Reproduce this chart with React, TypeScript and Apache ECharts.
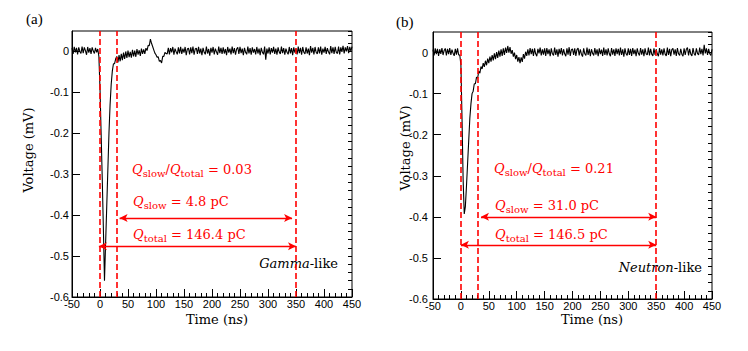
import React, { useEffect, useRef } from 'react';
import * as echarts from 'echarts';

// ---- sampling grid of the digitised waveforms (ns) ----
const T_START = -50;
const T_STEP = 2;

// ---- waveform (a): Gamma-like, voltage in mV, one value every 2 ns from -50 ns ----
const VOLT_A = [
  0.008, -0.006, 0.011, -0.002, 0.009, -0.007, 0.01, 0.000, -0.005, 0.012,
  -0.004, 0.01, 0.002, -0.008, 0.011, -0.003, 0.008, -0.006, 0.01, 0.001,
  -0.005, 0.009, -0.002, 0.006, -0.012,
  -0.09, -0.2, -0.31, -0.43, -0.56, -0.47, -0.38, -0.29, -0.2, -0.13,
  -0.08, -0.048, -0.03, -0.03, -0.018,
  -0.012, -0.027, -0.009, -0.024, -0.006,
  -0.021, -0.003, -0.018, 0.000, -0.016, 0.002, -0.014, -0.001, -0.015, 0.004,
  -0.012, 0.002, -0.013, 0.006, -0.008, 0.003, -0.011, 0.007, -0.006, 0.005,
  -0.006, 0.008, 0.002, 0.015, 0.014, 0.03, 0.02, 0.012, 0.004, -0.004,
  -0.008, -0.014, -0.013, -0.024, -0.022, -0.028, -0.012, -0.012, -0.002, -0.005,
  -0.006, 0.009, -0.007, 0.008, -0.002, 0.011, -0.008, 0.007, -0.001, -0.007,
  0.01, -0.005, 0.011, -0.006, 0.007, -0.003, 0.011, -0.009, 0.006, 0.008,
  -0.007, 0.01, -0.004, 0.012, -0.008, 0.006, 0.008, -0.006, 0.011, -0.005,
  0.007, -0.009, 0.009, -0.002, -0.007, 0.012, -0.005, 0.006, -0.01, 0.009,
  -0.003, 0.011, -0.007, 0.007, -0.001, -0.008, 0.012, -0.004, 0.009, -0.006,
  0.01, -0.005, 0.006, -0.009, 0.011, -0.003, 0.007, -0.007, 0.012, -0.004,
  0.008, -0.008, 0.006, 0.01, -0.006, 0.011, -0.004, 0.007, -0.009, 0.009,
  -0.002, -0.007, 0.012, -0.005, 0.008, -0.008, 0.01, -0.003, 0.006, -0.007,
  0.011, -0.005, 0.007, -0.009, 0.009, -0.002, -0.007, 0.012, -0.02, 0.007,
  -0.005, 0.01, -0.007, 0.008, -0.003, 0.011, -0.006, 0.007, -0.008, 0.01,
  -0.001, -0.006, 0.012, -0.004, 0.008, -0.008, 0.007, -0.002, -0.007, 0.011,
  -0.005, 0.008, -0.009, 0.01, -0.003, 0.007, -0.007, 0.012, -0.004, 0.009,
  -0.008, 0.011, -0.002, -0.006, 0.01, -0.005, 0.007, -0.009, 0.013, -0.003,
  0.009, -0.007, 0.011, -0.002, -0.006, 0.01, -0.005, 0.012, -0.008, 0.007,
  -0.003, 0.011, -0.006, 0.008, -0.001, -0.007, 0.013, -0.004, 0.01, -0.006,
  0.011, -0.002, -0.005, 0.012, -0.007, 0.01, -0.001, 0.014, -0.005, 0.01,
  0.000, 0.013, -0.004, 0.011, 0.001, 0.012,
];

// ---- waveform (b): Neutron-like ----
const VOLT_B = [
  0.007, -0.007, 0.01, -0.004, 0.009, -0.008, 0.008, -0.003, 0.011, -0.006,
  0.005, 0.01, -0.007, 0.009, -0.004, 0.011, -0.006, 0.007, -0.002, -0.008,
  0.009, -0.005, 0.01, -0.006, -0.006,
  -0.03, -0.16, -0.31, -0.393, -0.375, -0.325, -0.27, -0.215, -0.16, -0.125,
  -0.1, -0.094, -0.076, -0.076, -0.06, -0.062, -0.046, -0.05, -0.034, -0.04,
  -0.026, -0.035, -0.02, -0.031, -0.015, -0.026, -0.01, -0.022, -0.006, -0.019,
  -0.002, -0.016, 0.001, -0.013, 0.005, -0.01, 0.008, -0.008, 0.01, -0.006,
  0.012, -0.001, 0.016, 0.000, 0.013, -0.003, 0.006, -0.01, 0.000, -0.016,
  -0.006, -0.022, -0.011, -0.026, -0.012, -0.023, -0.004, -0.015, 0.002, -0.008,
  0.008, -0.007, 0.011, -0.004, 0.009, -0.008, 0.01, -0.003, -0.009, 0.009,
  -0.002, 0.012, -0.007, 0.008, -0.005, 0.01, -0.008, 0.011, -0.004, 0.008,
  -0.009, 0.01, -0.003, -0.007, 0.012, -0.006, 0.008, -0.01, 0.009, -0.004,
  0.011, -0.007, 0.008, -0.003, -0.009, 0.01, -0.005, 0.013, -0.008, 0.007,
  0.009, -0.006, 0.01, -0.008, 0.007, 0.011, -0.007, 0.008, -0.004, -0.01,
  0.01, -0.003, -0.007, 0.012, -0.006, 0.009, -0.009, 0.008, -0.002, -0.007,
  0.011, -0.005, 0.008, -0.009, 0.01, -0.004, 0.007, -0.008, 0.012, -0.006,
  0.008, -0.007, 0.01, -0.003, -0.009, 0.011, -0.005, 0.008, -0.008, 0.01,
  -0.004, 0.009, -0.007, 0.012, -0.006, 0.008, -0.01, 0.01, -0.003, -0.007,
  0.01, -0.006, 0.009, -0.008, 0.011, -0.004, 0.007, -0.009, 0.01, -0.002,
  -0.007, 0.011, -0.005, 0.008, -0.009, 0.01, -0.003, -0.006, 0.012, -0.007,
  0.009, -0.004, -0.008, 0.01, -0.006, 0.008, -0.003, -0.009, 0.011, -0.005,
  0.008, -0.007, 0.01, -0.004, -0.008, 0.012, -0.006, 0.009, -0.009, 0.007,
  0.01, -0.005, 0.008, -0.008, 0.011, -0.003, -0.007, 0.009, -0.004, -0.009,
  0.01, -0.006, 0.008, 0.012, -0.007, 0.009, -0.004, -0.008, 0.011, -0.003,
  -0.007, 0.01, -0.002, -0.006, 0.012, -0.004, 0.009, -0.007, 0.019, -0.002,
  0.01, -0.006, 0.009, -0.003, -0.007, 0.008,
];

// ---- axes ----
const X_MIN = -50;
const X_MAX = 450;
const X_INTERVAL = 50;
const Y_MIN = -0.6;
const Y_MAX = 0.05;
const Y_INTERVAL = 0.1;
const Y_MINOR_INTERVAL = 0.02;

// ---- integration gates (ns) ----
const GATES = [0, 30, 350];

// ---- charge arrows: [from ns, to ns, level mV] ----
const SLOW_ARROW_A = [35, 343, -0.407];
const TOTAL_ARROW_A = [-2, 350, -0.476];
const SLOW_ARROW_B = [36, 350, -0.4];
const TOTAL_ARROW_B = [0, 350, -0.468];

// ---- annotation texts ----
const RATIO_A = '0.03';
const SLOW_A = '4.8 pC';
const TOTAL_A = '146.4 pC';
const RATIO_B = '0.21';
const SLOW_B = '31.0 pC';
const TOTAL_B = '146.5 pC';

const RED = '#ff0000';
const SERIF = '"DejaVu Serif", serif';
const SANS = '"Liberation Sans", Arial, sans-serif';
const FS = 13;

const richStyles = (color: string) => ({
  q: { fontFamily: SERIF, fontStyle: 'italic', fontSize: FS, fill: color, color, lineHeight: 18 },
  s: { fontFamily: SERIF, fontSize: 10, fill: color, color, lineHeight: 18, verticalAlign: 'bottom', height: 10 },
  n: { fontFamily: SERIF, fontSize: FS, fill: color, color, lineHeight: 18 },
});

function textEl(x: number, y: number, text: string, color: string, align: string, rotation = 0) {
  return {
    type: 'text',
    x,
    y,
    rotation,
    silent: true,
    style: {
      text,
      rich: richStyles(color),
      fill: color,
      fontFamily: SERIF,
      fontSize: FS,
      align,
      textAlign: align,
      verticalAlign: 'middle',
      textVerticalAlign: 'middle',
    },
  };
}

function arrowPair(a: number[]) {
  return [
    {
      coord: [a[0], a[2]],
      symbol: 'arrow',
      symbolSize: [6, 8],
      lineStyle: { color: RED, type: 'solid', width: 1.4 },
    },
    { coord: [a[1], a[2]], symbol: 'arrow', symbolSize: [6, 8] },
  ];
}

function makeXAxis(g: number) {
  return {
    type: 'value',
    gridIndex: g,
    min: X_MIN,
    max: X_MAX,
    interval: X_INTERVAL,
    axisLine: { show: true, onZero: false, lineStyle: { color: '#000', width: 1 } },
    axisTick: { show: true, inside: true, length: 8, lineStyle: { color: '#000', width: 1 } },
    minorTick: { show: true, splitNumber: 5, length: 4, lineStyle: { color: '#000', width: 1 } },
    splitLine: { show: false },
    minorSplitLine: { show: false },
    axisLabel: { color: '#000', fontSize: 11, fontFamily: SANS, margin: 1 },
  };
}

function makeYAxes(g: number, labelMargin: number) {
  return [
    {
      type: 'value',
      gridIndex: g,
      min: Y_MIN,
      max: Y_MAX,
      interval: Y_INTERVAL,
      axisLine: { show: true, onZero: false, lineStyle: { color: '#000', width: 1 } },
      axisTick: { show: true, inside: true, length: 8, lineStyle: { color: '#000', width: 1 } },
      splitLine: { show: false },
      axisLabel: { color: '#000', fontSize: 11, fontFamily: SANS, margin: labelMargin, showMaxLabel: false },
    },
    {
      type: 'value',
      gridIndex: g,
      min: Y_MIN,
      max: Y_MAX,
      interval: Y_MINOR_INTERVAL,
      axisLine: { show: false, onZero: false },
      axisTick: { show: true, inside: true, length: 4, lineStyle: { color: '#000', width: 1 } },
      splitLine: { show: false },
      axisLabel: { show: false },
    },
  ];
}

function makeSeries(volts: number[], xi: number, yi: number, slow: number[], total: number[]) {
  const data = volts.map((v, i) => [T_START + i * T_STEP, v]);
  return {
    type: 'line',
    xAxisIndex: xi,
    yAxisIndex: yi,
    data,
    showSymbol: false,
    symbol: 'none',
    silent: true,
    lineStyle: { color: '#000', width: 1.1 },
    markLine: {
      silent: true,
      symbol: ['none', 'none'],
      label: { show: false },
      emphasis: { disabled: true },
      data: [
        ...GATES.map((x) => ({ xAxis: x, lineStyle: { color: RED, type: [6, 3], width: 1.6 } })),
        arrowPair(slow),
        arrowPair(total),
      ],
    },
  };
}

export default function App() {
  const ref = useRef<HTMLDivElement>(null);
  useEffect(() => {
    if (!ref.current) return;
    const chart = echarts.init(ref.current, undefined, { renderer: 'svg' });
    const option = {
      animation: false,
      backgroundColor: '#fff',
      grid: [
        { left: 72, top: 31, width: 280, height: 266, show: true, borderColor: '#000', borderWidth: 1, backgroundColor: 'transparent' },
        { left: 433, top: 32, width: 279, height: 267, show: true, borderColor: '#000', borderWidth: 1, backgroundColor: 'transparent' },
      ],
      xAxis: [makeXAxis(0), makeXAxis(1)],
      yAxis: [...makeYAxes(0, 3), ...makeYAxes(1, 5)],
      series: [
        makeSeries(VOLT_A, 0, 0, SLOW_ARROW_A, TOTAL_ARROW_A),
        makeSeries(VOLT_B, 1, 2, SLOW_ARROW_B, TOTAL_ARROW_B),
      ],
      graphic: [
        { type: 'text', x: 26, y: 19, silent: true, style: { text: '(a)', fill: '#000', fontFamily: '"Liberation Serif", serif', fontSize: 15, verticalAlign: 'middle', textVerticalAlign: 'middle' } },
        { type: 'text', x: 396, y: 22, silent: true, style: { text: '(b)', fill: '#000', fontFamily: '"Liberation Serif", serif', fontSize: 15, verticalAlign: 'middle', textVerticalAlign: 'middle' } },
        textEl(28, 150, '{n|Voltage (mV)}', '#000', 'center', Math.PI / 2),
        textEl(405, 148, '{n|Voltage (mV)}', '#000', 'center', Math.PI / 2),
        textEl(217, 319, '{n|Time (n}{q|s}{n|)}', '#000', 'center'),
        textEl(592, 319, '{n|Time (ns)}', '#000', 'center'),
        textEl(132, 169, `{q|Q}{s|slow}{n|/}{q|Q}{s|total}{n| = ${RATIO_A}}`, RED, 'left'),
        textEl(133, 201, `{q|Q}{s|slow}{n| = ${SLOW_A}}`, RED, 'left'),
        textEl(133, 234, `{q|Q}{s|total}{n| = ${TOTAL_A}}`, RED, 'left'),
        textEl(338, 263, '{q|Gamma}{n|-like}', '#000', 'right'),
        textEl(494, 168, `{q|Q}{s|slow}{n|/}{q|Q}{s|total}{n| = ${RATIO_B}}`, RED, 'left'),
        textEl(495, 205, `{q|Q}{s|slow}{n| = ${SLOW_B}}`, RED, 'left'),
        textEl(495, 234, `{q|Q}{s|total}{n| = ${TOTAL_B}}`, RED, 'left'),
        textEl(702, 267, '{q|Neutron}{n|-like}', '#000', 'right'),
      ],
    };
    chart.setOption(option as any);
    return () => chart.dispose();
  }, []);
  return (
    <div
      ref={ref}
      style={{ position: 'fixed', left: 0, top: 0, width: 748, height: 351, background: '#fff' }}
    />
  );
}
